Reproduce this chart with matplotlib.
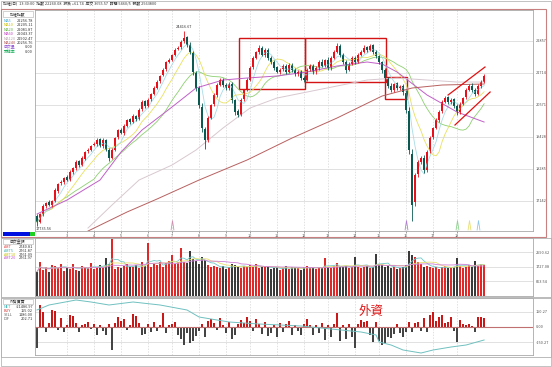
import numpy as np
import pandas as pd
import matplotlib
matplotlib.use('Agg')
import matplotlib.pyplot as plt
import matplotlib.transforms as mtransforms
from matplotlib.patches import Rectangle

plt.rcParams['font.family'] = ['Noto Sans CJK TC', 'DejaVu Sans']

# ---- price data (30 min bars) ----
open_ = [16600, 16400, 16650, 16950, 17080, 16980, 17150, 17500, 17760, 17800,
         17990, 17880, 18170, 18300, 18560, 18420, 18650, 18900, 18960, 19120,
         19150, 19330, 19100, 19300, 18950, 18680, 18960, 19400, 19680, 19560,
         19820, 20050, 19950, 20180, 20060, 20400, 20690, 20530, 20760, 20960,
         21180, 21400, 21620, 21830, 22110, 22180, 22360, 22560, 22620, 22840,
         22980, 22720, 22400, 21700, 21150, 20500, 19700, 19320, 20110, 20580,
         20930, 21290, 21470, 21290, 21160, 21300, 20730, 20330, 20210, 20760,
         21110, 21470, 21900, 22250, 22470, 22610, 22340, 22540, 22250, 22100,
         21900, 21740, 21830, 21970, 21750, 22000, 21820, 21660, 21760, 21530,
         21470, 21830, 21970, 21740, 21890, 22110, 21960, 22180, 21880, 22250,
         22470, 22680, 22350, 22090, 21820, 22040, 22250, 22110, 22360, 22470,
         22620, 22530, 22690, 22460, 22300, 22090, 21800, 21510, 21250, 21100,
         21330, 21170, 21250, 21000, 20350, 18800, 17100, 18080, 18540, 18680,
         18240, 18900, 19400, 19750, 20040, 20330, 20680, 20830, 20660, 20760,
         20530, 20300, 20610, 20830, 21110, 21250, 21100, 20960, 21250, 21390]
close = [16381, 16667, 16953, 17060, 16989, 17130, 17524, 17739, 17810, 17953,
         17881, 18167, 18310, 18524, 18417, 18667, 18881, 18953, 19096, 19167,
         19310, 19096, 19310, 18953, 18667, 18953, 19381, 19667, 19560, 19810,
         20024, 19953, 20167, 20060, 20381, 20667, 20524, 20739, 20953, 21167,
         21381, 21596, 21810, 22096, 22167, 22346, 22524, 22596, 22810, 22953,
         22703, 22453, 21739, 21167, 20560, 19739, 19310, 20096, 20560, 20917,
         21274, 21453, 21274, 21167, 21310, 20739, 20310, 20203, 20739, 21096,
         21453, 21881, 22239, 22453, 22596, 22346, 22524, 22239, 22096, 21881,
         21739, 21810, 21953, 21739, 21989, 21810, 21667, 21739, 21524, 21453,
         21810, 21953, 21739, 21881, 22096, 21953, 22167, 21881, 22239, 22453,
         22667, 22346, 22096, 21810, 22024, 22239, 22096, 22346, 22453, 22596,
         22524, 22667, 22453, 22310, 22096, 21810, 21524, 21239, 21096, 21310,
         21167, 21239, 21024, 20381, 18953, 16989, 18060, 18524, 18667, 18239,
         18881, 19381, 19739, 20024, 20310, 20667, 20810, 20667, 20739, 20524,
         20310, 20596, 20810, 21096, 21239, 21096, 20953, 21239, 21381, 21596]
up_tail = [60, 50, 70, 40, 80, 50, 60, 40, 70, 50,
           60, 80, 40, 60, 50, 70, 40, 60, 50, 80,
           60, 40, 70, 50, 60, 80, 50, 40, 70, 60,
           50, 60, 80, 40, 60, 70, 50, 60, 40, 80,
           60, 50, 70, 40, 60, 50, 80, 60, 70, 250,
           60, 80, 100, 60, 80, 120, 90, 60, 50, 70,
           80, 60, 50, 70, 60, 80, 50, 70, 60, 50,
           70, 60, 80, 50, 90, 60, 70, 50, 60, 80,
           50, 60, 70, 60, 80, 50, 60, 70, 50, 60,
           80, 60, 50, 70, 60, 80, 50, 90, 60, 70,
           120, 60, 50, 70, 60, 80, 50, 70, 60, 90,
           60, 80, 50, 70, 60, 50, 70, 60, 80, 50,
           60, 50, 70, 80, 150, 200, 80, 60, 70, 80,
           60, 70, 50, 60, 80, 70, 60, 50, 70, 60,
           80, 60, 50, 70, 60, 80, 50, 70, 60, 80]
low_tail = [150, 60, 50, 70, 40, 60, 50, 70, 40, 60,
            50, 40, 70, 50, 60, 40, 70, 50, 60, 40,
            70, 50, 60, 40, 120, 50, 60, 70, 40, 60,
            50, 70, 40, 60, 50, 40, 70, 50, 60, 40,
            50, 60, 40, 70, 50, 60, 40, 50, 60, 70,
            80, 60, 90, 100, 120, 150, 320, 80, 60, 50,
            70, 50, 60, 80, 60, 90, 100, 80, 60, 50,
            60, 70, 50, 60, 80, 50, 60, 70, 80, 60,
            50, 70, 60, 80, 50, 70, 60, 50, 80, 70,
            60, 50, 70, 60, 80, 50, 60, 70, 60, 50,
            70, 80, 60, 90, 60, 50, 70, 60, 50, 70,
            60, 50, 70, 60, 80, 90, 70, 80, 60, 70,
            80, 60, 90, 120, 150, 570, 150, 80, 90, 120,
            70, 60, 50, 60, 70, 50, 60, 70, 60, 80,
            90, 60, 50, 70, 60, 80, 60, 50, 70, 60]

# long moving averages (need history before the window)
ma60_idx = [0, 10, 21, 28, 35, 45, 53, 62, 70, 80, 90, 100, 110, 115, 120, 130, 140, 149]
ma60_val = [16667, 17167, 17881, 18881, 19667, 20489, 21167, 21453, 21524, 21596,
            21739, 21953, 22096, 22024, 21739, 20917, 20310, 19953]
ma120_idx = [17, 25, 34, 45, 53, 62, 71, 80, 90, 100, 110, 120, 130, 140, 149]
ma120_val = [16167, 16989, 17881, 18417, 18953, 19739, 20453, 20810, 21024, 21239,
             21453, 21524, 21453, 21381, 21381]
ma240_idx = [17, 30, 40, 54, 70, 85, 100, 115, 125, 135, 149]
ma240_val = [16060, 16739, 17203, 17881, 18596, 19381, 20096, 20881, 21167, 21274, 21310]

# volume (amount)
volume = [1450, 2000, 1550, 1700, 1400, 1850, 1800, 1650, 1900, 1500,
          1750, 1600, 1900, 1550, 1500, 1800, 1700, 1650, 1950, 1600,
          1750, 1850, 1700, 2260, 1900, 3400, 1600, 1700, 1650, 1800,
          1900, 1750, 1700, 1850, 1650, 2000, 1800, 3150, 1700, 1900,
          1850, 2000, 1750, 1950, 2100, 2440, 1900, 2050, 2850, 2000,
          1950, 2680, 2200, 2100, 1900, 2300, 2150, 1850, 1700, 1800,
          1750, 1650, 1800, 1600, 1700, 1900, 1850, 1750, 1650, 1800,
          1700, 1850, 1750, 1900, 1650, 1700, 1800, 1750, 1600, 1650,
          1700, 1550, 1650, 1800, 1600, 1700, 1750, 1650, 1550, 1700,
          1800, 1650, 1700, 1600, 1750, 1650, 2260, 1700, 1650, 1800,
          1950, 1750, 1700, 1800, 1650, 1700, 2350, 1750, 1650, 1700,
          1800, 1650, 1700, 2500, 1900, 1850, 1750, 1800, 1650, 1700,
          1600, 1650, 1750, 1850, 2680, 2450, 2300, 2000, 1900, 1750,
          1800, 1700, 1650, 1750, 1600, 1700, 1800, 1650, 1700, 1750,
          2260, 1800, 1650, 1700, 1850, 1750, 2100, 1800, 1900, 1850]

# foreign investors net buy / sell
foreign = [-210, 220, 150, -50, 40, 170, 160, -30, 90, -50,
           20, 120, 110, 40, -50, 20, 30, 50, -20, 30,
           -80, 20, -40, -80, 30, -230, 40, 100, 60, 80,
           -30, 20, 130, 110, 40, -80, -70, 30, -50, 50,
           -40, 20, 140, -60, 20, 30, 50, -80, -120, -180,
           -60, -160, -140, -90, -40, 30, -100, 60, 80, 40,
           -30, 90, 20, -60, 50, -120, -80, 30, 70, 40,
           100, 60, -40, 80, 30, -70, 50, -90, -60, 20,
           -100, 40, -50, 30, 60, -80, 20, -40, -80, 30,
           80, 20, -80, 20, -60, 40, -130, 20, -100, 30,
           140, -140, 20, -120, 30, -100, -210, 30, 70, 50,
           60, -80, -150, 50, -140, -180, -160, -100, -110, -70,
           30, -60, -100, -50, 50, -50, 40, 50, -40, 90,
           -50, 120, 150, 60, 100, 120, 40, 50, 100, -40,
           -150, 70, 30, 20, 30, 10, -50, 100, 100, 90]
foreign_cum_idx = [0, 4, 13, 18, 24, 32, 41, 50, 54, 64, 74, 88, 98, 108, 113, 114,
                   118, 122, 128, 132, 138, 143, 149]
foreign_cum_val = [170, 220, 270, 250, 220, 250, 220, 170, 100, 50, 30, 10, -20, -50,
                   -80, -150, -180, -230, -260, -230, -200, -180, -130]

day_ticks = [10, 19, 28, 37, 45, 54, 63, 71, 80, 89, 97, 106, 114, 123, 132, 140]
day_labels = ['3', '4', '5', '6', '7', '8', '9', '10', '11', '12', '13', '14',
              '15', '16', '17', '18']
price_ticks = [17142, 18285, 19428, 20571, 21714, 22857]
vol_ticks = [863.54, 1727.08, 2590.62]
for_ticks = [-150.27, 0, 150.27]

signal_idx = [45, 123, 140, 144, 147]
signal_colors = ['#d090b0', '#b080d0', '#90d090', '#e8e070', '#90c8e8']

# marked zones: (left bar, right bar, low, high)
zones = [(67.3, 89.3, 21131, 22953), (89.3, 116.3, 21381, 22953), (116.0, 123.3, 20774, 21560)]
channel = [((137.0, 20917), (149.3, 21917)), ((139.3, 19846), (151.0, 21024))]

W, H = 552, 367
fig = plt.figure(figsize=(W / 100, H / 100), dpi=100)


def box(x0, y0, x1, y1):
    return [x0 / W, 1 - y1 / H, (x1 - x0) / W, (y1 - y0) / H]


def txt(x, y, s, **kw):
    kw.setdefault('fontsize', 2.8)
    kw.setdefault('va', 'center')
    fig.text(x / W, 1 - y / H, s, **kw)


def frame(x0, y0, x1, y1, color, lw=0.8):
    fig.add_artist(Rectangle((x0 / W, 1 - y1 / H), (x1 - x0) / W, (y1 - y0) / H,
                             transform=fig.transFigure, fill=False, ec=color, lw=lw))


ax = fig.add_axes(box(35, 10, 533, 231))
axv = fig.add_axes(box(35, 238, 533, 296), sharex=ax)
axf = fig.add_axes(box(35, 298, 533, 355), sharex=ax)

n = len(close)
x = np.arange(n)
o = np.array(open_)
c = np.array(close)
hi = np.maximum(o, c) + np.array(up_tail)
lo = np.minimum(o, c) - np.array(low_tail)
up = c >= o
col = np.where(up, '#e8101a', '#0b5a52')

s = pd.Series(close)
ax.plot(x, s.rolling(20, min_periods=1).mean(), color='#8cd070', lw=0.6)
ax.plot(x, s.rolling(10, min_periods=1).mean(), color='#e8e060', lw=0.6)
ax.plot(x, s.rolling(5, min_periods=1).mean(), color='#a8dce8', lw=0.6)
ax.plot(ma60_idx, ma60_val, color='#c060c8', lw=0.7)
ax.plot(ma120_idx, ma120_val, color='#d8c8d0', lw=0.7)
ax.plot(ma240_idx, ma240_val, color='#b86060', lw=0.7)

ax.vlines(x, lo, hi, colors=col, lw=0.6)
ax.bar(x, np.maximum(np.abs(c - o), 15), bottom=np.minimum(o, c), width=0.75, color=col, lw=0)

for l, r, bot, top in zones:
    ax.add_patch(Rectangle((l, bot), r - l, top - bot, fill=False, ec='#d41414', lw=1.0))
for (x0, y0), (x1, y1) in channel:
    ax.plot([x0, x1], [y0, y1], color='#e01010', lw=0.9)

trans = mtransforms.blended_transform_factory(ax.transData, ax.transAxes)
tri = [(-0.3, -1), (0, 1), (0.3, -1)]
for i, cc in zip(signal_idx, signal_colors):
    ax.plot([i], [0.025], marker=tri, ms=7, mfc='none', mec=cc, mew=0.6, transform=trans)

pk = int(np.argmax(hi))
ax.text(pk, hi[pk] + 60, '24416.67', fontsize=2.8, ha='center', va='bottom', color='#333333')
ax.text(-0.3, lo[0] - 20, '17735.56', fontsize=2.8, ha='left', va='top', color='#333333')

ax.set_ylim(16061, 23953)
ax.set_xlim(-0.67, 165.3)
ax.set_yticks(price_ticks)
ax.set_yticklabels([str(v) for v in price_ticks])
ax.set_xticks(day_ticks)
ax.set_xticklabels(day_labels)

# volume panel
vcol = np.where(up, '#e02828', '#3a3a3a')
axv.bar(x, volume, width=0.85, color=vcol, lw=0)
vs = pd.Series(volume)
axv.plot(x, vs.rolling(5, min_periods=1).mean(), color='#70c8c8', lw=0.6)
axv.plot(x, vs.rolling(10, min_periods=1).mean(), color='#e8e070', lw=0.6)
axv.plot(x, vs.rolling(20, min_periods=1).mean(), color='#d080d8', lw=0.6)
axv.set_ylim(0, 3454)
axv.set_yticks(vol_ticks)
axv.set_yticklabels(['%.2f' % v for v in vol_ticks])

# foreign panel
f = np.array(foreign)
fcol = np.where(f > 0, '#c81818', '#444444')
axf.bar(x, f, width=0.8, color=fcol, lw=0)
axf.axhline(0, color='#c07070', lw=0.8)
axf.plot(foreign_cum_idx, foreign_cum_val, color='#70c0c0', lw=0.7)
axf.set_ylim(-280, 290)
axf.set_yticks(for_ticks)
axf.set_yticklabels(['%.2f' % v for v in for_ticks])

for a in (ax, axv, axf):
    a.yaxis.tick_right()
    a.tick_params(axis='y', labelsize=2.8, length=0, pad=2, colors='#555555')
    a.tick_params(axis='x', labelsize=2.8, length=1.5, pad=0.5, colors='#555555', width=0.4)
    a.grid(axis='y', color='#dcdcdc', lw=0.6)
    a.grid(axis='x', color='#d4d4d4', lw=0.5, ls=(0, (2, 2)))
    a.set_axisbelow(True)
    for sp in a.spines.values():
        sp.set_color('#a8a8a8')
        sp.set_linewidth(0.6)
axv.tick_params(axis='x', labelbottom=False, length=0)
axf.tick_params(axis='x', labelbottom=False, length=0)

# header and frames
txt(3, 4.5, '加權(日)  13:30:00  指數 22260.08  漲跌 +61.74  成交 3655.57  時間 5460/5  張數 2563800',
    color='#333333')
frame(1, 1, 551, 366, '#b8b8b8', 0.6)
frame(1, 9, 546, 237, '#c88080', 0.8)
frame(1, 238, 551, 297, '#b0b0b0', 0.6)
frame(1, 298, 551, 357, '#b0b0b0', 0.6)
fig.add_artist(Rectangle((3 / W, 1 - 236 / H), 27 / W, 4 / H, transform=fig.transFigure,
                         color='#0010e0', lw=0))
fig.add_artist(Rectangle((30 / W, 1 - 236 / H), 5 / W, 4 / H, transform=fig.transFigure,
                         color='#20d020', lw=0))

# left legends
main_rows = [('MA5', '22256.78', '#40a8d0'), ('MA10', '22205.11', '#c8c000'),
             ('MA20', '22081.87', '#60b040'), ('MA60', '22043.37', '#c040c0'),
             ('MA120', '21902.47', '#b8a8b0'), ('MA240', '20256.76', '#b05050'),
             ('成交量', '0.00', '#9050d0'), ('乖離率', '0.00', '#20b060')]
frame(3, 11, 33, 17, '#b0b0b0', 0.4)
txt(18, 14, '加權指數', ha='center', color='#333333')
for k, (name, val, cc) in enumerate(main_rows):
    y = 21 + k * 4.4
    txt(4, y, name, color=cc)
    txt(33, y, val, ha='right', color='#333333')

vol_rows = [('AMT', '2740.81', '#e04040'), ('AMT5', '2761.87', '#40b0b0'),
            ('AMT10', '2761.09', '#c8c000'), ('AMT20', '2761.97', '#c050c8')]
frame(3, 239, 33, 244, '#b0b0b0', 0.4)
txt(18, 241.5, '成交金額', ha='center', color='#333333')
for k, (name, val, cc) in enumerate(vol_rows):
    y = 247 + k * 3.8
    txt(4, y, name, color=cc)
    txt(33, y, val, ha='right', color='#333333')

for_rows = [('NET', '-21486.97', '#40b0b0'), ('BUY', '155.02', '#d03030'),
            ('SELL', '1186.00', '#606060'), ('DIF', '202.71', '#606060')]
frame(3, 299, 33, 304, '#b0b0b0', 0.4)
txt(18, 301.5, '外資買賣', ha='center', color='#333333')
for k, (name, val, cc) in enumerate(for_rows):
    y = 306.5 + k * 4.2
    txt(4, y, name, color=cc)
    txt(33, y, val, ha='right', color='#333333')

txt(371, 311, '外資', ha='center', fontsize=9, color='#e01818')

fig.savefig('out.png', dpi=100)
